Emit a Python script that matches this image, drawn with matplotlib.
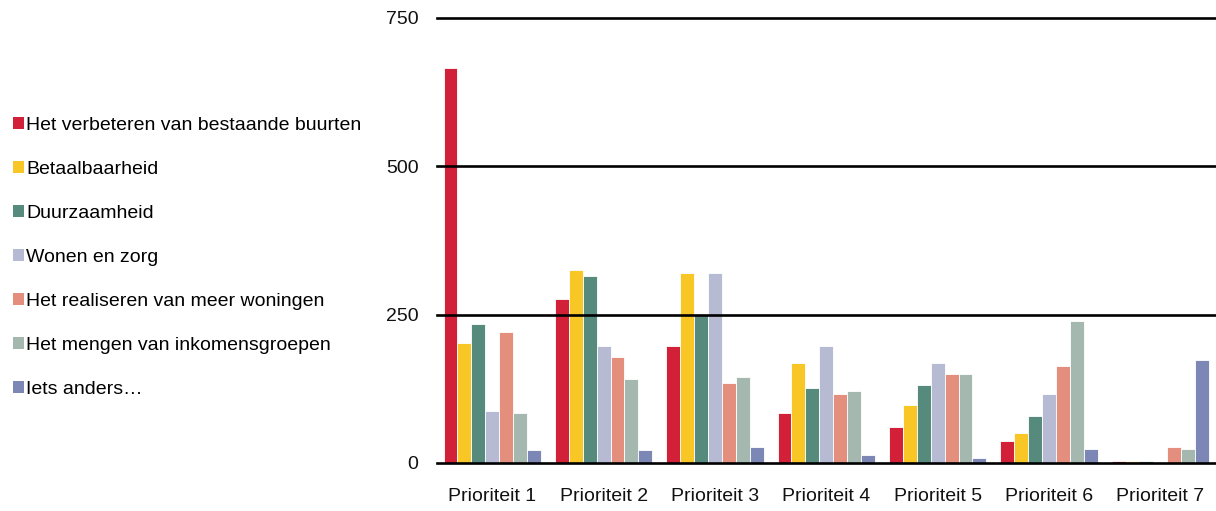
import numpy as np
import matplotlib.pyplot as plt
from matplotlib.patches import Patch

plt.rcParams['font.family'] = ['Liberation Sans', 'DejaVu Sans']

categories = ['Prioriteit 1', 'Prioriteit 2', 'Prioriteit 3', 'Prioriteit 4',
              'Prioriteit 5', 'Prioriteit 6', 'Prioriteit 7']

series_names = ['Het verbeteren van bestaande buurten', 'Betaalbaarheid',
                'Duurzaamheid', 'Wonen en zorg',
                'Het realiseren van meer woningen',
                'Het mengen van inkomensgroepen', 'Iets anders\u2026']

verbeteren = [665, 277, 197, 84, 61, 37, 4]
betaalbaarheid = [202, 325, 320, 169, 98, 51, 3]
duurzaamheid = [235, 315, 250, 126, 131, 79, 4]
wonen_zorg = [88, 197, 320, 197, 169, 117, 2]
meer_woningen = [221, 178, 135, 117, 150, 164, 27]
mengen = [84, 141, 145, 122, 150, 240, 23]
iets_anders = [22, 22, 27, 13, 8, 23, 174]

series = [verbeteren, betaalbaarheid, duurzaamheid, wonen_zorg,
          meer_woningen, mengen, iets_anders]
colors = ['#D32039', '#F8C625', '#568A7C', '#B7BAD3',
          '#E48F7E', '#A4B8AF', '#7D87B5']

fig = plt.figure(figsize=(12.16, 5.11), dpi=100)
ax = fig.add_axes([0.359, 0.094, 0.641, 0.871])

x = np.arange(len(categories))
w = 1 / 8
for i, (vals, c) in enumerate(zip(series, colors)):
    ax.bar(x - 0.5 + w / 2 + w * (i + 0.5), vals, width=w, color=c,
           edgecolor='white', linewidth=0.6, zorder=2, label=series_names[i])

ax.set_xlim(-0.5, len(categories) - 0.5)
ax.set_ylim(0, 750)
ax.set_yticks([0, 250, 500, 750])
for yv in [0, 250, 500, 750]:
    ax.axhline(yv, color='black', lw=1.9, zorder=3, clip_on=False)

ax.set_xticks(x)
ax.set_xticklabels(categories)
ax.tick_params(axis='both', length=0, labelsize=14, colors='#111111')
ax.tick_params(axis='y', pad=13)
ax.tick_params(axis='x', pad=18)
for s in ax.spines.values():
    s.set_visible(False)

handles = [Patch(facecolor=c, edgecolor='none') for c in colors]
fig.legend(handles, series_names, loc='upper left',
           bbox_to_anchor=(0.0107, 0.771), frameon=False, fontsize=14,
           handlelength=0.55, handleheight=0.55, handletextpad=0.12,
           labelspacing=1.39, borderpad=0, borderaxespad=0)

fig.savefig('out.png', dpi=100)
